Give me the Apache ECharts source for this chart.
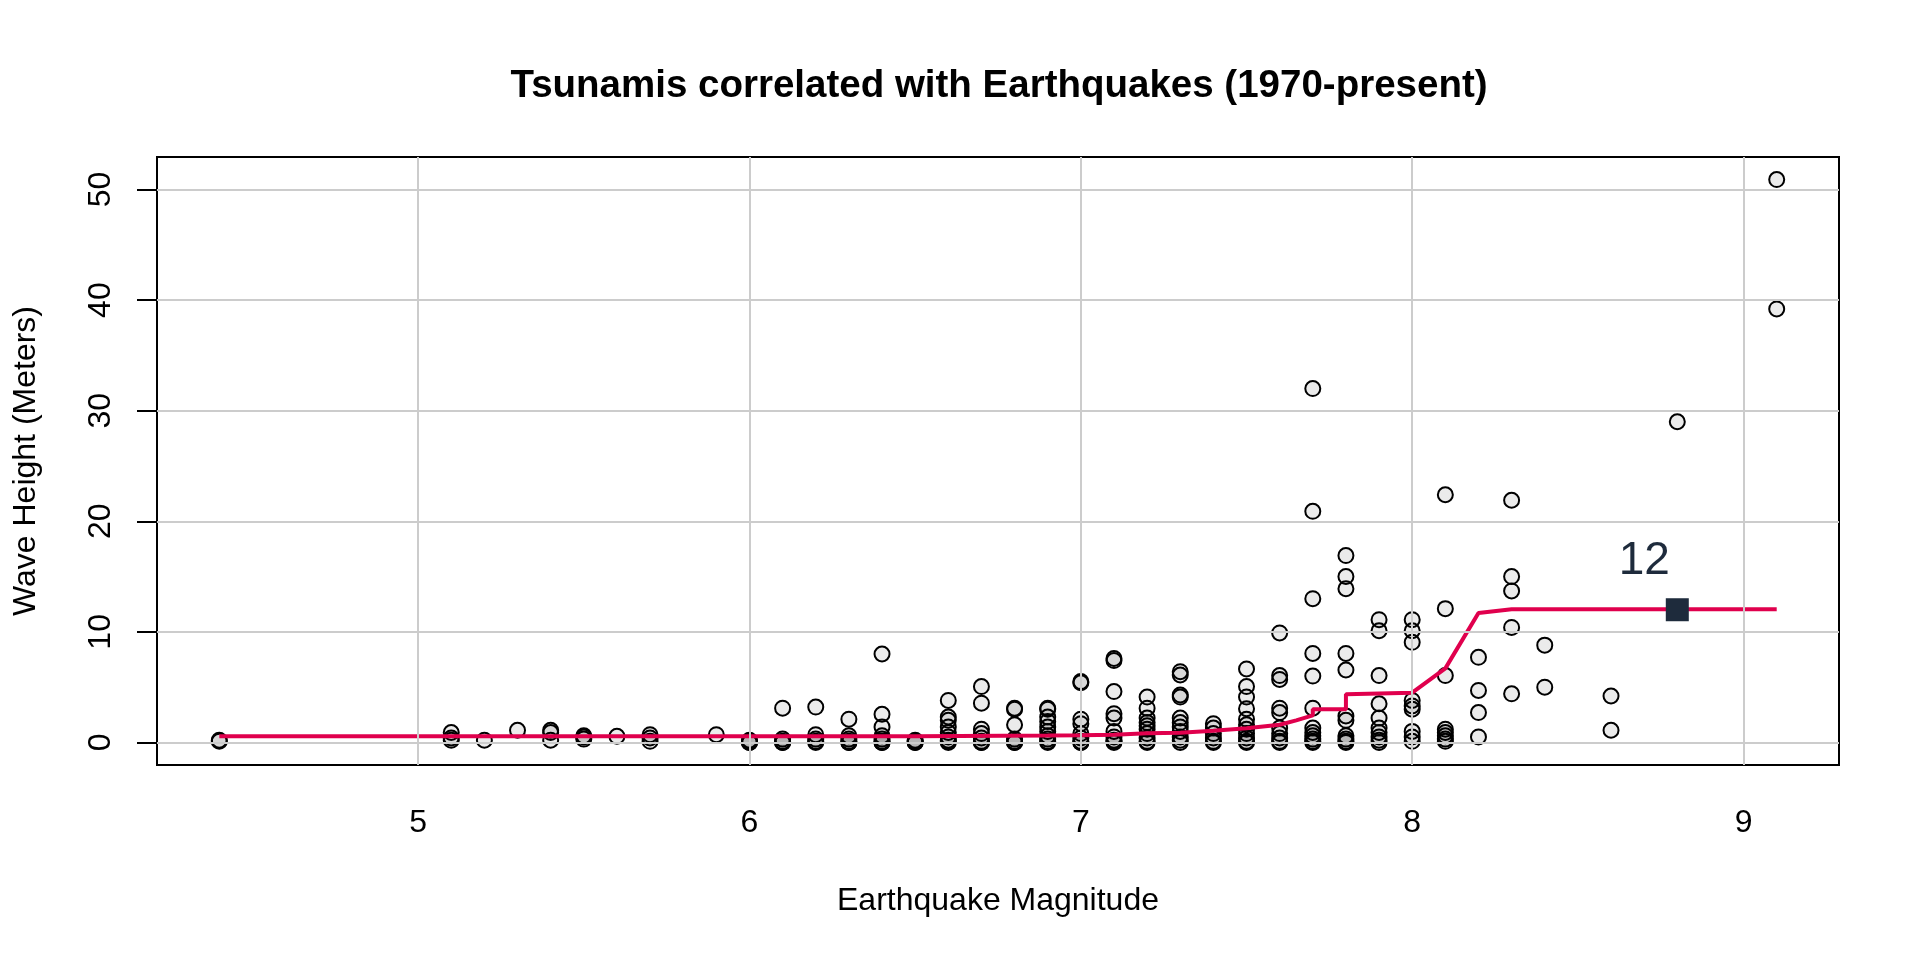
<!DOCTYPE html>
<html>
<head>
<meta charset="utf-8">
<title>Tsunamis correlated with Earthquakes</title>
<script src="https://cdn.jsdelivr.net/npm/echarts@6/dist/echarts.min.js"></script>
<style>
html, body { margin: 0; padding: 0; background: #fff; }
#main { width: 1920px; height: 960px; }
</style>
</head>
<body>
<div id="main"></div>
<script>
// magnitudes and the wave heights recorded at each one
var magnitudes = [4.4, 5.1, 5.2, 5.3, 5.4, 5.5, 5.6, 5.7, 5.9, 6.0, 6.1, 6.2, 6.3, 6.4, 6.5, 6.6, 6.7, 6.8, 6.9,
    7.0, 7.1, 7.2, 7.3, 7.4, 7.5, 7.6, 7.7, 7.8, 7.9, 8.0, 8.1, 8.2, 8.3, 8.4, 8.6, 8.8, 9.1];
var heightsAtMag = [
    [0.2, 0.1],
    [0.9, 0.4, 0.2],
    [0.2],
    [1.1],
    [1.1, 0.9, 0.2],
    [0.6, 0.5, 0.3],
    [0.55],
    [0.7, 0.4, 0.1],
    [0.7],
    [0.2, 0.1, 0, 0],
    [3.1, 0.3, 0.1, 0, 0],
    [3.2, 0.7, 0.3, 0.1, 0],
    [2.1, 0.6, 0.3, 0.1, 0, 0],
    [8.0, 2.55, 1.4, 0.6, 0.3, 0.1, 0, 0],
    [0.2, 0.1, 0, 0],
    [3.8, 2.3, 2.0, 1.4, 0.9, 0.5, 0.2, 0.1, 0],
    [5.05, 3.55, 1.2, 0.8, 0.4, 0.1, 0, 0],
    [3.1, 3.0, 1.6, 0.3, 0.1, 0, 0],
    [3.1, 3.0, 2.3, 1.9, 1.4, 1.0, 0.6, 0.3, 0.1, 0],
    [5.5, 5.4, 2.1, 1.7, 0.8, 0.4, 0.1, 0, 0],
    [7.6, 7.4, 4.6, 2.6, 2.2, 1.0, 0.5, 0.2, 0.1, 0],
    [4.1, 3.1, 2.2, 1.8, 1.5, 1.2, 0.8, 0.4, 0.1, 0],
    [6.4, 6.1, 4.3, 4.1, 2.2, 1.8, 1.4, 1.0, 0.5, 0.2, 0],
    [1.7, 1.3, 0.8, 0.4, 0.1, 0],
    [6.65, 5.05, 4.1, 3.05, 2.1, 1.6, 1.2, 0.8, 0.4, 0.1, 0],
    [9.9, 6.05, 5.7, 3.1, 2.7, 1.3, 0.8, 0.4, 0.1, 0],
    [32.0, 20.9, 13.0, 8.05, 6.0, 3.1, 1.3, 0.9, 0.6, 0.3, 0.1, 0],
    [16.9, 15.0, 13.9, 8.05, 6.55, 2.4, 2.0, 0.6, 0.3, 0.1, 0],
    [11.1, 10.1, 6.05, 3.5, 2.2, 1.3, 0.9, 0.5, 0.2, 0],
    [11.1, 10.1, 9.05, 3.8, 3.3, 3.0, 1.0, 0.5, 0.1],
    [22.4, 12.1, 6.05, 1.2, 0.9, 0.6, 0.3, 0.1],
    [7.7, 4.7, 2.7, 0.5],
    [21.9, 15.0, 13.7, 10.4, 4.4],
    [8.8, 5.0],
    [4.2, 1.1],
    [29.0],
    [50.9, 39.2]
];

// smoothed trend line
var trendMag = [4.4, 6.0, 6.5, 6.9, 7.0, 7.1, 7.1, 7.2, 7.3, 7.3, 7.4, 7.5, 7.6, 7.65, 7.7, 7.7, 7.8, 7.8, 8.0, 8.1, 8.2, 8.3, 9.1];
var trendHeight = [0.55, 0.55, 0.57, 0.63, 0.65, 0.7, 0.8, 0.82, 0.88, 1.0, 1.05, 1.28, 1.6, 2.0, 2.45, 3.0, 3.0, 4.35, 4.5, 6.7, 11.7, 12.05, 12.05];

// highlighted point
var markMag = 8.8;
var markHeight = 12;

var xTicks = [5, 6, 7, 8, 9];
var yTicks = [0, 10, 20, 30, 40, 50];

var FONT = '"Liberation Sans", Arial, Helvetica, sans-serif';

var points = [];
magnitudes.forEach(function (m, i) {
    heightsAtMag[i].forEach(function (h) {
        points.push([m, h]);
    });
});
var trend = trendMag.map(function (m, i) { return [m, trendHeight[i]]; });

var gridLines = xTicks.map(function (v) { return { xAxis: v }; })
    .concat(yTicks.map(function (v) { return { yAxis: v }; }));

var myChart = echarts.init(document.getElementById('main'));

option = {
    animation: false,
    backgroundColor: '#fff',
    title: {
        text: 'Tsunamis correlated with Earthquakes (1970-present)',
        left: 994,
        top: 62,
        textAlign: 'center',
        textStyle: { fontSize: 38.5, fontWeight: 'bold', color: '#000', fontFamily: FONT }
    },
    grid: {
        left: 157, right: 81, top: 157, bottom: 195,
        show: true, borderColor: '#000', borderWidth: 2
    },
    xAxis: {
        type: 'value',
        min: 4.212,
        max: 9.288,
        name: 'Earthquake Magnitude',
        nameLocation: 'middle',
        nameGap: 120,
        nameTextStyle: { fontSize: 32, color: '#000', fontFamily: FONT },
        axisLine: { show: false },
        splitLine: { show: false },
        axisTick: { show: true, inside: false, length: 20, customValues: xTicks, lineStyle: { color: '#000', width: 2 } },
        axisLabel: { customValues: xTicks, margin: 42, fontSize: 32, color: '#000', fontFamily: FONT }
    },
    yAxis: {
        type: 'value',
        min: -2.04,
        max: 52.94,
        name: 'Wave Height (Meters)',
        nameLocation: 'middle',
        nameGap: 115,
        nameTextStyle: { fontSize: 32, color: '#000', fontFamily: FONT },
        axisLine: { show: false },
        splitLine: { show: false },
        axisTick: { show: true, inside: false, length: 20, customValues: yTicks, lineStyle: { color: '#000', width: 2 } },
        axisLabel: { customValues: yTicks, rotate: 90, margin: 40, fontSize: 32, color: '#000', fontFamily: FONT }
    },
    series: [
        {
            // grey reference grid
            type: 'line',
            data: [],
            z: 1,
            silent: true,
            markLine: {
                silent: true,
                symbol: ['none', 'none'],
                label: { show: false },
                lineStyle: { color: '#cccccc', width: 2, type: 'solid' },
                data: gridLines
            }
        },
        {
            type: 'scatter',
            data: points,
            symbol: 'circle',
            symbolSize: 15,
            z: 2,
            itemStyle: { color: 'rgba(0,0,0,0.08)', borderColor: '#000', borderWidth: 2, opacity: 1 }
        },
        {
            type: 'line',
            data: trend,
            symbol: 'none',
            z: 3,
            lineStyle: { color: '#E0004D', width: 4 }
        },
        {
            type: 'scatter',
            data: [[markMag, markHeight]],
            symbol: 'rect',
            symbolSize: 23,
            z: 4,
            itemStyle: { color: '#1e2b3c', opacity: 1 },
            label: {
                show: true,
                position: 'top',
                distance: 14,
                offset: [-33, 0],
                formatter: String(markHeight),
                fontSize: 46,
                color: '#1e2b3c',
                fontFamily: FONT
            }
        }
    ]
};

myChart.setOption(option);
</script>
</body>
</html>
